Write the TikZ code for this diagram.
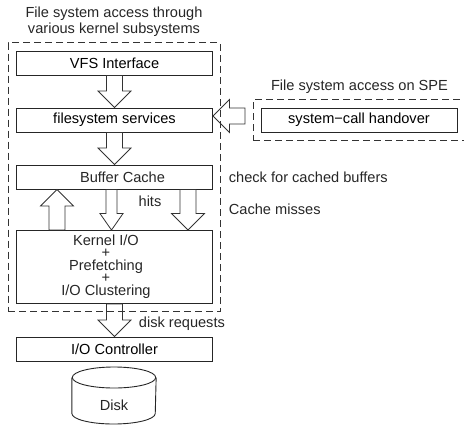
\documentclass[tikz,border=0pt]{standalone}
\usepackage{fontspec}
\setmainfont{Liberation Sans}
\usetikzlibrary{calc, shapes.geometric}

% hollow block arrow: tail, tip, shaft half width, head half width
\newcommand{\blockarrow}[4]{%
    \path #1 coordinate (batail) #2 coordinate (batip);
    \draw[blockline] ($(batail)!#3pt!90:(batip)$)
        -- ($(batip)!16.5pt!(batail)!#3pt!90:(batip)$)
        -- ($(batip)!16.5pt!(batail)!#4pt!90:(batip)$)
        -- (batip)
        -- ($(batip)!16.5pt!(batail)!#4pt!-90:(batip)$)
        -- ($(batip)!16.5pt!(batail)!#3pt!-90:(batip)$)
        -- ($(batail)!#3pt!-90:(batip)$) -- cycle;
}

\begin{document}
\begin{tikzpicture}[
                x=1pt, y=-1pt,
                box/.style={draw=black!85, line width=0.9pt, minimum width=196pt,
                            minimum height=24pt, inner sep=0pt,
                            font=\fontsize{14.6}{16.5}\selectfont},
                dashbox/.style={draw=black!80, line width=0.8pt, dash pattern=on 7pt off 4pt,
                                inner sep=0pt},
                lbl/.style={font=\fontsize{14.6}{16.5}\selectfont, text=black!85,
                            inner sep=0pt, align=center},
                blockline/.style={draw=black!80, line width=0.8pt, line join=miter},
            ]
                \useasboundingbox (0,0) rectangle (464,426);

                % Kernel side
                \node[lbl] (kerneltitle) at (114, 21.5) {File system access through\\various kernel subsystems};
                \node[dashbox, minimum width=212pt, minimum height=269pt] (kernelgroup) at (114, 177) {};
                \node[box] (vfs) at (114.5, 63) {VFS Interface};
                \node[box] (fs) at (114.5, 120) {filesystem services};
                \node[box] (buffer) at (114.5, 177) {};
                \node[lbl] (buffertxt) at (122.5, 177) {Buffer Cache};
                \node[box, minimum height=73pt] (kernel) at (114.5, 267) {};
                \node[lbl, font=\fontsize{14.6}{12.4}\selectfont] (kerneltxt) at (106, 266.5) {Kernel I/O\\+\\Prefetching\\+\\I/O Clustering};

                % SPE side
                \node[lbl] (spetitle) at (359.5, 87) {File system access on SPE};
                \node[dashbox, minimum width=215pt, minimum height=40.5pt] (spegroup) at (360.5, 119.75) {};
                \node[box] (handover) at (359, 120) {system−call handover};

                % Below the kernel
                \node[box] (ctrl) at (114.5, 349) {I/O Controller};
                \node[draw=black!85, line width=0.9pt, ellipse, minimum width=83.4pt, minimum height=21pt,
                      inner sep=0pt] (disktop) at (114, 377.5) {};
                \draw[black!85, line width=0.9pt] (disktop.west) -- +(0, 36)
                    arc[start angle=180, end angle=360, x radius=41.7pt, y radius=10.5pt] -- (disktop.east);
                \node[lbl] (disktxt) at (114, 405) {Disk};

                % Block arrows
                \blockarrow{(vfs.south)}{(fs.north)}{8}{16.5}
                \blockarrow{(fs.south)}{(buffer.north)}{8}{16.5}
                \blockarrow{([xshift=-57.5pt]kernel.north)}{([xshift=-57.5pt]buffer.south)}{8}{16.5}
                \blockarrow{([xshift=-3pt]buffer.south)}{([xshift=-3pt]kernel.north)}{5.5}{11.5}
                \blockarrow{([xshift=73.5pt]buffer.south)}{([xshift=73.5pt]kernel.north)}{8}{16.5}
                \blockarrow{(kernel.south)}{(ctrl.north)}{8}{16.5}
                \coordinate (spetail) at (245, 116);
                \blockarrow{(spetail)}{([yshift=4pt]fs.east)}{8}{16.5}

                % Side labels
                \node[lbl, anchor=west] (checklbl) at (228.7, 177) {check for cached buffers};
                \node[lbl, anchor=west] (misslbl) at (228.7, 209) {Cache misses};
                \node[lbl] (hitslbl) at (150, 201) {hits};
                \node[lbl, anchor=west] (reqlbl) at (138.7, 324) {disk requests};
            \end{tikzpicture}
\end{document}
